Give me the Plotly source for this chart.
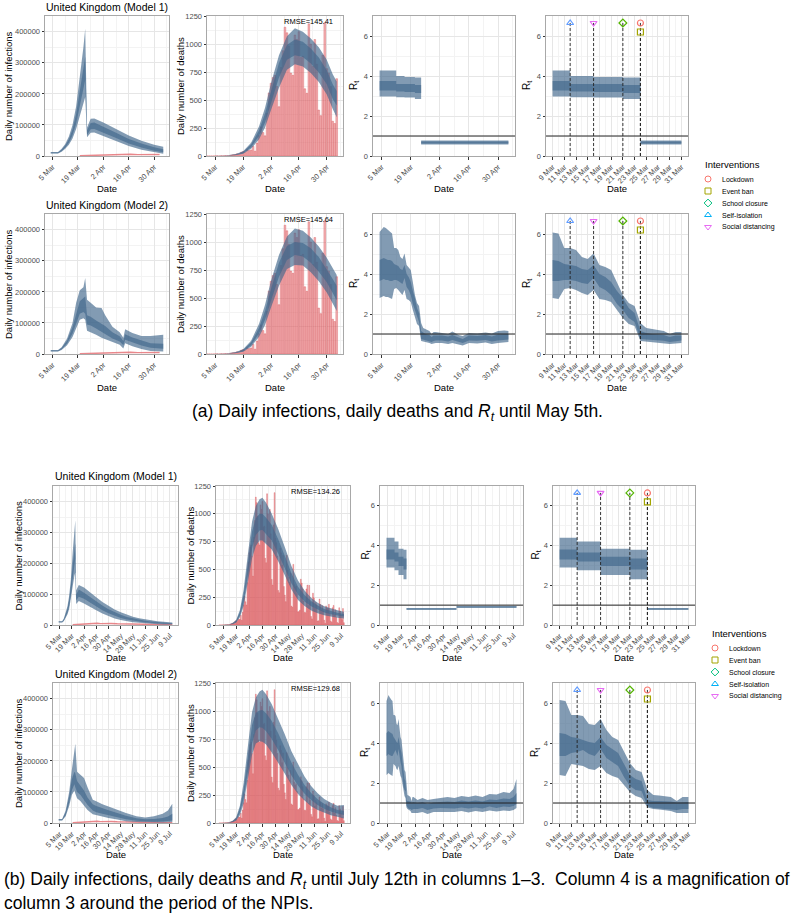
import pandas as pd
import plotly.graph_objects as go

W, H = 794, 917
FONT = "Liberation Sans, Arial, sans-serif"
BAND = "rgba(66,103,140,0.66)"
BAR_FILL = "rgba(232,118,122,0.55)"
BAR_LINE = "rgba(214,78,84,0.75)"
CASE_LINE = "rgba(228,105,110,0.8)"
GRID = "#e6e6e6"
GRID_MINOR = "#f3f3f3"
BORDER = "#a8a8a8"

# ---------------- observed data ----------------
death_start = "2020-03-01"
deaths = [0, 0, 0, 0, 1, 1, 0, 2, 1, 3,
          2, 2, 8, 12, 14, 20, 16, 33, 40, 33,
          56, 48, 54, 87, 43, 115, 181, 260, 209, 180, 381,
          563, 650, 700, 720, 620, 440, 790, 940, 1150, 1100,
          980, 740, 720, 1080, 1040, 1110, 880, 890, 600, 560,
          1180, 1000, 800, 1040, 820, 410, 360, 900, 1190, 780,
          740, 620, 310, 290, 690, 649, 539, 626, 346, 269,
          210, 627, 494, 428, 384, 468, 170, 160, 545, 363,
          338, 351, 282, 118, 121, 134, 412, 377, 324, 215, 113,
          111, 324, 359, 176, 357, 204, 77, 55, 286, 245,
          151, 202, 181, 36, 38, 233, 184, 135, 173, 128,
          43, 15, 171, 154, 149, 186, 100, 36, 25, 155,
          176, 89, 137, 67, 22, 16, 155, 126, 85, 48, 148, 21]

case_dates = ["2020-03-20", "2020-03-24", "2020-03-28", "2020-04-01", "2020-04-05", "2020-04-09",
              "2020-04-13", "2020-04-17", "2020-04-21", "2020-04-25", "2020-04-29", "2020-05-03",
              "2020-05-10", "2020-05-17", "2020-05-24", "2020-05-31", "2020-06-07", "2020-06-14",
              "2020-06-21", "2020-06-28", "2020-07-05", "2020-07-12"]
cases = [700, 1400, 2500, 4300, 5500, 5000, 4500, 5500, 4500, 5000, 4500, 4800,
         3900, 3300, 2400, 1800, 1500, 1200, 1000, 900, 600, 600]

# ---------------- infections (50% and 95% bands) ----------------
inf_a1_dates = ["2020-03-04", "2020-03-06", "2020-03-08", "2020-03-10", "2020-03-12", "2020-03-14",
                "2020-03-16", "2020-03-18", "2020-03-20", "2020-03-22", "2020-03-23", "2020-03-24",
                "2020-03-26", "2020-03-28", "2020-04-02", "2020-04-09", "2020-04-16", "2020-04-23",
                "2020-04-30", "2020-05-05"]
inf_a1_lo50 = [9000, 9000, 9000, 16000, 27000, 43000, 67000, 105000, 160000, 220000, 245000, 68000,
               86000, 87000, 76000, 58000, 40000, 27000, 17000, 12000]
inf_a1_hi50 = [11000, 11000, 11000, 20000, 34000, 54000, 85000, 135000, 205000, 285000, 320000, 83000,
               106000, 108000, 95000, 75000, 55000, 40000, 28000, 22000]
inf_a1_lo95 = [8000, 8000, 8000, 14000, 23000, 36000, 56000, 87000, 130000, 175000, 190000, 60000,
               75000, 76000, 65000, 48000, 32000, 20000, 11000, 7000]
inf_a1_hi95 = [12500, 12500, 12500, 23000, 39000, 63000, 100000, 160000, 250000, 350000, 410000, 92000,
               120000, 121000, 108000, 88000, 66000, 49000, 36000, 30000]

inf_a2_dates = ["2020-03-04", "2020-03-08", "2020-03-10", "2020-03-13", "2020-03-16", "2020-03-18",
                "2020-03-20", "2020-03-22", "2020-03-23", "2020-03-24", "2020-03-26", "2020-03-29",
                "2020-04-01", "2020-04-03", "2020-04-07", "2020-04-11", "2020-04-13", "2020-04-14",
                "2020-04-18", "2020-04-23", "2020-04-28", "2020-05-05"]
inf_a2_lo50 = [9000, 9000, 15000, 34000, 66000, 100000, 130000, 135000, 130000, 95000, 92000, 82000,
               72000, 66000, 50000, 40000, 28000, 46000, 37000, 27000, 20000, 17000]
inf_a2_hi50 = [11000, 11000, 19000, 43000, 86000, 132000, 170000, 180000, 185000, 125000, 120000, 108000,
               97000, 90000, 70000, 57000, 42000, 64000, 53000, 43000, 35000, 33000]
inf_a2_lo95 = [8000, 8000, 13000, 28000, 55000, 85000, 110000, 115000, 110000, 75000, 70000, 62000,
               52000, 48000, 38000, 30000, 18000, 35000, 25000, 16000, 10000, 8000]
inf_a2_hi95 = [12500, 12500, 22000, 50000, 100000, 165000, 205000, 215000, 245000, 175000, 165000, 150000,
               148000, 125000, 88000, 70000, 52000, 80000, 68000, 58000, 58000, 62000]

inf_b1_dates = ["2020-03-04", "2020-03-08", "2020-03-10", "2020-03-12", "2020-03-14", "2020-03-16",
                "2020-03-18", "2020-03-20", "2020-03-22", "2020-03-23", "2020-03-24", "2020-03-27",
                "2020-04-02", "2020-04-09", "2020-04-16", "2020-04-23", "2020-04-30", "2020-05-07",
                "2020-05-14", "2020-05-21", "2020-05-28", "2020-06-04", "2020-06-11", "2020-06-18",
                "2020-06-25", "2020-07-02", "2020-07-12"]
inf_b1_lo50 = [9000, 9000, 15000, 26000, 40000, 62000, 98000, 150000, 195000, 215000, 80000, 92000,
               85000, 72000, 60000, 48000, 38000, 30000, 23000, 18000, 14000, 11000, 8500, 6500,
               5000, 4000, 3000]
inf_b1_hi50 = [11000, 11000, 19000, 33000, 52000, 82000, 128000, 195000, 250000, 265000, 98000, 115000,
               105000, 90000, 77000, 63000, 51000, 41000, 33000, 26000, 21000, 17000, 13500, 11000,
               9000, 7500, 6000]
inf_b1_lo95 = [8000, 8000, 13000, 22000, 34000, 52000, 82000, 125000, 160000, 170000, 68000, 78000,
               70000, 58000, 48000, 37000, 28000, 21000, 16000, 12000, 9000, 7000, 5000, 3800,
               2800, 2000, 1500]
inf_b1_hi95 = [12500, 12500, 22000, 38000, 60000, 95000, 150000, 235000, 300000, 340000, 112000, 130000,
               122000, 105000, 90000, 75000, 62000, 50000, 41000, 33000, 27000, 22000, 18000, 15000,
               12500, 10500, 8500]

inf_b2_dates = ["2020-03-04", "2020-03-08", "2020-03-12", "2020-03-16", "2020-03-19", "2020-03-21",
                "2020-03-22", "2020-03-23", "2020-03-25", "2020-03-29", "2020-04-02", "2020-04-06",
                "2020-04-12", "2020-04-16", "2020-04-23", "2020-04-30", "2020-05-10", "2020-05-20",
                "2020-06-01", "2020-06-11", "2020-06-21", "2020-07-01", "2020-07-07", "2020-07-12"]
inf_b2_lo50 = [9000, 9000, 26000, 65000, 105000, 120000, 125000, 115000, 100000, 90000, 75000, 58000,
               40000, 35000, 30000, 25000, 18000, 12000, 7000, 5000, 4000, 5000, 6000, 8000]
inf_b2_hi50 = [11000, 11000, 34000, 85000, 140000, 160000, 165000, 160000, 135000, 120000, 105000, 82000,
               60000, 55000, 47000, 41000, 32000, 23000, 15000, 12000, 13000, 16000, 21000, 30000]
inf_b2_lo95 = [8000, 8000, 22000, 55000, 90000, 100000, 105000, 95000, 80000, 70000, 55000, 42000,
               28000, 25000, 20000, 16000, 11000, 6000, 3000, 2000, 1500, 2000, 2500, 3000]
inf_b2_hi95 = [12500, 12500, 40000, 100000, 170000, 210000, 240000, 255000, 165000, 155000, 145000, 115000,
               75000, 70000, 60000, 53000, 42000, 32000, 22000, 18000, 22000, 30000, 40000, 62000]

# ---------------- modelled deaths ----------------
dth_a_dates = ["2020-03-04", "2020-03-10", "2020-03-15", "2020-03-19", "2020-03-23", "2020-03-27",
               "2020-03-30", "2020-04-02", "2020-04-06", "2020-04-10", "2020-04-14", "2020-04-18",
               "2020-04-22", "2020-04-26", "2020-04-30", "2020-05-03", "2020-05-05"]
dth_a1_lo50 = [0, 1, 8, 25, 78, 180, 300, 470, 700, 860, 900, 885, 825, 745, 640, 510, 450]
dth_a1_hi50 = [0, 3, 12, 36, 102, 230, 380, 575, 830, 990, 1040, 1020, 960, 880, 765, 640, 580]
dth_a1_lo95 = [0, 1, 6, 20, 65, 150, 255, 410, 610, 770, 820, 800, 740, 660, 550, 420, 345]
dth_a1_hi95 = [0, 4, 15, 42, 118, 265, 430, 650, 900, 1070, 1140, 1110, 1050, 970, 860, 730, 665]
dth_a2_lo50 = [0, 1, 8, 25, 78, 185, 305, 475, 690, 840, 885, 870, 815, 735, 640, 545, 480]
dth_a2_hi50 = [0, 3, 12, 36, 102, 235, 385, 580, 815, 965, 1000, 990, 945, 865, 760, 670, 610]
dth_a2_lo95 = [0, 1, 6, 20, 65, 155, 260, 415, 610, 760, 795, 790, 730, 650, 550, 450, 385]
dth_a2_hi95 = [0, 4, 15, 42, 118, 270, 440, 655, 885, 1050, 1120, 1100, 1040, 960, 860, 765, 705]

dth_b_dates = ["2020-03-04", "2020-03-10", "2020-03-15", "2020-03-19", "2020-03-23", "2020-03-27",
               "2020-04-01", "2020-04-05", "2020-04-09", "2020-04-13", "2020-04-16", "2020-04-20",
               "2020-04-26", "2020-05-03", "2020-05-10", "2020-05-17", "2020-05-24", "2020-05-31",
               "2020-06-07", "2020-06-14", "2020-06-21", "2020-06-28", "2020-07-05", "2020-07-12"]
dth_b1_lo50 = [0, 1, 8, 26, 85, 205, 460, 690, 810, 850, 855, 820, 760, 640, 505, 375, 275, 212,
               168, 137, 112, 96, 84, 76]
dth_b1_hi50 = [0, 3, 13, 38, 115, 275, 585, 840, 960, 1000, 1000, 965, 900, 770, 620, 465, 345, 270,
               215, 175, 145, 125, 110, 100]
dth_b1_lo95 = [0, 1, 6, 20, 70, 170, 390, 600, 710, 760, 760, 730, 680, 570, 440, 320, 225, 170,
               130, 105, 88, 75, 65, 58]
dth_b1_hi95 = [0, 4, 16, 46, 135, 320, 670, 930, 1070, 1130, 1145, 1100, 1000, 860, 700, 530, 400, 310,
               245, 200, 168, 148, 132, 120]
dth_b2_lo50 = [0, 1, 9, 28, 92, 220, 480, 710, 825, 855, 850, 820, 750, 650, 535, 425, 335, 262,
               205, 160, 128, 102, 84, 72]
dth_b2_hi50 = [0, 3, 14, 42, 130, 300, 620, 875, 985, 1005, 1010, 980, 910, 800, 670, 540, 430, 340,
               268, 212, 172, 140, 117, 110]
dth_b2_lo95 = [0, 1, 6, 20, 70, 175, 400, 610, 710, 730, 725, 700, 630, 540, 440, 340, 260, 200,
               150, 115, 90, 70, 55, 40]
dth_b2_hi95 = [0, 5, 18, 52, 155, 360, 720, 990, 1120, 1175, 1190, 1150, 1060, 930, 790, 640, 520, 415,
               330, 265, 215, 180, 155, 160]

# ---------------- Rt, model 1 (piecewise constant) ----------------
rt_a1_starts = ["2020-03-04", "2020-03-12", "2020-03-16", "2020-03-21", "2020-03-24"]
rt_a1_end = "2020-05-05"
rt_a1_lo50 = [3.28, 3.22, 3.20, 3.15, 0.63]
rt_a1_hi50 = [3.75, 3.60, 3.60, 3.55, 0.72]
rt_a1_lo95 = [2.98, 2.94, 2.92, 2.85, 0.58]
rt_a1_hi95 = [4.27, 4.00, 3.95, 3.92, 0.78]

rt_b1_starts = ["2020-03-04", "2020-03-12", "2020-03-16", "2020-03-21", "2020-03-24", "2020-05-13"]
rt_b1_end = "2020-07-12"
rt_b1_lo50 = [3.30, 3.20, 2.97, 2.80, 0.79, 0.89]
rt_b1_hi50 = [3.80, 3.65, 3.44, 3.35, 0.83, 0.93]
rt_b1_lo95 = [2.90, 2.76, 2.52, 2.31, 0.76, 0.86]
rt_b1_hi95 = [4.39, 4.20, 3.84, 3.79, 0.86, 0.96]

# ---------------- Rt, model 2 (daily to 31 Mar, then sparser) ----------------
rt_a2_dates = [d.strftime("%Y-%m-%d") for d in pd.date_range("2020-03-04", "2020-03-31")] + [
    "2020-04-03", "2020-04-06", "2020-04-08", "2020-04-11", "2020-04-13", "2020-04-16",
    "2020-04-20", "2020-04-24", "2020-04-27", "2020-04-30", "2020-05-03", "2020-05-05"]
rt_a2_lo50 = [3.65, 3.70, 3.75, 3.70, 3.70, 3.65, 3.65, 3.70, 3.70, 3.65, 3.55, 3.50, 3.80, 3.35,
              3.20, 2.95, 2.50, 2.20, 1.80, 1.60, 0.75, 0.72, 0.70, 0.68, 0.66, 0.60, 0.65, 0.68,
              0.68, 0.63, 0.70, 0.60, 0.55, 0.68, 0.66, 0.70, 0.63, 0.68, 0.70, 0.72]
rt_a2_hi50 = [4.70, 4.75, 4.80, 4.75, 4.70, 4.70, 4.65, 4.50, 4.45, 4.40, 4.25, 4.20, 4.45, 4.00,
              3.85, 3.60, 3.15, 2.80, 2.30, 2.05, 1.15, 1.05, 1.00, 0.97, 0.95, 0.85, 0.92, 0.93,
              0.92, 0.87, 0.95, 0.82, 0.75, 0.92, 0.90, 0.95, 0.88, 0.97, 1.00, 1.00]
rt_a2_lo95 = [2.80, 2.85, 2.90, 2.85, 2.85, 2.80, 2.75, 3.25, 3.30, 3.20, 3.05, 2.95, 3.20, 2.75,
              2.70, 2.60, 2.20, 1.80, 1.50, 1.40, 0.65, 0.62, 0.60, 0.57, 0.55, 0.50, 0.52, 0.55,
              0.55, 0.50, 0.55, 0.45, 0.42, 0.55, 0.53, 0.58, 0.50, 0.55, 0.58, 0.60]
rt_a2_hi95 = [6.10, 6.25, 6.35, 6.30, 6.20, 6.08, 6.03, 5.30, 5.30, 5.20, 4.85, 4.75, 5.03, 4.45,
              4.35, 4.20, 3.60, 2.95, 2.55, 2.40, 1.55, 1.30, 1.25, 1.20, 1.15, 1.00, 1.10, 1.10,
              1.05, 1.00, 1.12, 0.95, 0.90, 1.05, 1.02, 1.08, 1.02, 1.15, 1.18, 1.15]

rt_b2_dates = [d.strftime("%Y-%m-%d") for d in pd.date_range("2020-03-04", "2020-03-31")] + [
    "2020-04-04", "2020-04-09", "2020-04-14", "2020-04-20", "2020-04-27", "2020-05-04",
    "2020-05-11", "2020-05-18", "2020-05-25", "2020-06-01", "2020-06-08", "2020-06-15",
    "2020-06-22", "2020-06-29", "2020-07-05", "2020-07-09", "2020-07-12"]
rt_b2_lo50 = [3.35, 3.40, 3.45, 3.40, 3.35, 3.35, 3.35, 3.50, 3.55, 3.65, 3.45, 3.35, 3.70, 3.25,
              3.05, 2.85, 2.30, 1.85, 1.65, 1.60, 0.85, 0.75, 0.72, 0.70, 0.70, 0.65, 0.70, 0.70,
              0.70, 0.75, 0.65, 0.72, 0.75, 0.75, 0.72, 0.78, 0.72, 0.78, 0.72, 0.82, 0.75, 0.82,
              0.80, 0.85, 0.95]
rt_b2_hi50 = [4.50, 4.55, 4.60, 4.55, 4.50, 4.50, 4.45, 4.30, 4.25, 4.15, 4.05, 4.00, 4.30, 3.90,
              3.70, 3.50, 2.95, 2.40, 2.20, 2.10, 1.15, 1.10, 1.10, 1.10, 1.08, 1.02, 1.05, 1.05,
              1.00, 1.05, 0.95, 1.02, 1.05, 1.08, 1.05, 1.12, 1.08, 1.12, 1.08, 1.18, 1.15, 1.22,
              1.20, 1.30, 1.50]
rt_b2_lo95 = [2.40, 2.45, 2.50, 2.45, 2.42, 2.40, 2.35, 2.95, 2.90, 2.85, 2.70, 2.65, 2.85, 2.50,
              2.35, 2.25, 1.90, 1.55, 1.35, 1.25, 0.78, 0.70, 0.67, 0.65, 0.60, 0.50, 0.50, 0.50,
              0.50, 0.55, 0.45, 0.55, 0.55, 0.58, 0.55, 0.60, 0.52, 0.60, 0.55, 0.62, 0.58, 0.62,
              0.60, 0.65, 0.75]
rt_b2_hi95 = [6.10, 6.25, 6.40, 6.30, 6.20, 6.15, 6.10, 5.40, 5.40, 5.35, 4.95, 4.90, 5.20, 4.65,
              4.30, 4.15, 3.60, 3.00, 2.65, 2.55, 1.65, 1.40, 1.38, 1.35, 1.30, 1.10, 1.30, 1.30,
              1.15, 1.25, 1.15, 1.20, 1.25, 1.30, 1.25, 1.35, 1.30, 1.38, 1.30, 1.45, 1.42, 1.55,
              1.50, 1.70, 2.20]

# ---------------- interventions ----------------
interventions = ["Lockdown", "Event ban", "School closure", "Self-isolation", "Social distancing"]
interv_dates = ["2020-03-24", "2020-03-24", "2020-03-21", "2020-03-12", "2020-03-16"]
interv_y = [6.65, 6.2, 6.65, 6.65, 6.65]
interv_symbols = ["circle-open", "square-open", "diamond-open", "triangle-up-open", "triangle-down-open"]
interv_colors = ["#F8766D", "#A3A500", "#53B400", "#619CFF", "#E76BF3"]
legend_colors = ["#F8766D", "#A3A500", "#00BF7D", "#00B0F6", "#E76BF3"]

# ---------------- tick labels ----------------
tick_a_labels = ["5 Mar", "19 Mar", "2 Apr", "16 Apr", "30 Apr"]
tick_b_labels = ["5 Mar", "19 Mar", "2 Apr", "16 Apr", "30 Apr", "14 May", "28 May", "11 Jun", "25 Jun", "9 Jul"]
tick_z_labels = ["9 Mar", "11 Mar", "13 Mar", "15 Mar", "17 Mar", "19 Mar", "21 Mar", "23 Mar",
                 "25 Mar", "27 Mar", "29 Mar", "31 Mar"]
rmse_text = [["RMSE=145.41", "RMSE=145.64"], ["RMSE=134.26", "RMSE=129.68"]]


def ds(idx):
    return [d.strftime("%Y-%m-%d") for d in idx]


tick_a = ds(pd.date_range("2020-03-05", periods=5, freq="14D"))
tick_b = ds(pd.date_range("2020-03-05", periods=10, freq="14D"))
tick_z = ds(pd.date_range("2020-03-09", "2020-03-31", freq="2D"))
minor_ab = ds(pd.date_range("2020-02-27", "2020-07-31", freq="14D"))
minor_z = ds(pd.date_range("2020-03-08", "2020-04-01", freq="2D"))
death_dates = ds(pd.date_range(death_start, periods=len(deaths)))

# ---------------- layout geometry (pixels) ----------------
COLS = [[(45, 169), (207, 343), (373, 515), (546, 688)],
        [(53, 178), (216, 350), (380, 523), (553, 695)]]
ROWS = [[(16, 156), (214, 354)], [(486, 625), (683, 823)]]
DATE_Y = [[188, 387], [657, 854]]
TITLE_Y = [[7, 205], [476, 674]]
YTITLE_X = [[8, 180, 354, 527], [18, 190, 365, 535]]
XRANGE = [["2020-02-29 20:00", "2020-05-08 04:00"], ["2020-02-26 12:00", "2020-07-18 12:00"]]
ZRANGE = ["2020-03-07 21:00", "2020-04-01 03:00"]
END = ["2020-05-05", "2020-07-12"]

fig = go.Figure()
layout = dict(width=W, height=H, margin=dict(l=0, r=0, t=0, b=0), paper_bgcolor="white",
              plot_bgcolor="rgba(0,0,0,0)", showlegend=False, bargap=0.15,
              font=dict(family=FONT, size=9, color="black"), annotations=[], shapes=[])

# full-page pixel axis used to place free text and the legends
layout["xaxis17"] = dict(domain=[0, 1], range=[0, W], visible=False, anchor="y17", fixedrange=True)
layout["yaxis17"] = dict(domain=[0, 1], range=[H, 0], visible=False, anchor="x17", fixedrange=True)


def text_px(text, x, y, size, xanchor="center", angle=0, color="black"):
    layout["annotations"].append(dict(text=text, xref="x17", yref="y17", x=x, y=y, xanchor=xanchor,
                                      yanchor="middle", textangle=angle, showarrow=False,
                                      font=dict(size=size, family=FONT, color=color)))


def names(k):
    s = "" if k == 1 else str(k)
    return "x" + s, "y" + s, "xaxis" + s, "yaxis" + s


def add_axes(k, xpx, ypx, xcfg, ycfg):
    xn, yn, xk, yk = names(k)
    common = dict(showline=True, linecolor=BORDER, linewidth=1, mirror=True, showgrid=True,
                  gridcolor=GRID, gridwidth=0.8, zeroline=False, ticks="outside", ticklen=2.5,
                  tickwidth=0.8, tickcolor="#333333", automargin=False,
                  tickfont=dict(size=7.5, color="#4d4d4d", family=FONT))
    layout[xk] = dict(common, domain=[xpx[0] / W, xpx[1] / W], anchor=yn, **xcfg)
    layout[yk] = dict(common, domain=[1 - ypx[1] / H, 1 - ypx[0] / H], anchor=xn, **ycfg)
    return xn, yn


def x_cfg(rng, tv, tt, mv):
    return dict(type="date", range=rng, tickmode="array", tickvals=tv, ticktext=tt, tickangle=-45,
                minor=dict(tickmode="array", tickvals=mv, showgrid=True, gridcolor=GRID_MINOR,
                           gridwidth=0.6, ticks=""))


def y_cfg(rng, tv, mv):
    return dict(range=rng, tickmode="array", tickvals=tv, tickformat="d",
                minor=dict(tickmode="array", tickvals=mv, showgrid=True, gridcolor=GRID_MINOR,
                           gridwidth=0.6, ticks=""))


Y_INF = y_cfg([0, 451000], [0, 100000, 200000, 300000, 400000], [50000, 150000, 250000, 350000, 450000])
Y_DTH = y_cfg([0, 1250], [0, 250, 500, 750, 1000, 1250], [125, 375, 625, 875, 1125])
Y_RT = y_cfg([0, 7], [0, 2, 4, 6], [1, 3, 5, 7])
Y_TITLES = ["Daily number of infections", "Daily number of deaths", "R<sub>t</sub>", "R<sub>t</sub>"]


def band(xn, yn, x, lo50, hi50, lo95, hi95, shape="linear"):
    for lo, hi in ((lo95, hi95), (lo50, hi50)):
        fig.add_trace(go.Scatter(x=x, y=lo, mode="lines", line=dict(width=0, shape=shape),
                                 xaxis=xn, yaxis=yn, hoverinfo="skip"))
        fig.add_trace(go.Scatter(x=x, y=hi, mode="lines", line=dict(width=0, shape=shape),
                                 fill="tonexty", fillcolor=BAND, xaxis=xn, yaxis=yn, hoverinfo="skip"))


def step_xy(starts, end, vals, lo=None, hi=None):
    s = [pd.Timestamp(v) for v in starts]
    e = pd.Timestamp(end)
    lo = pd.Timestamp(lo) if lo else s[0]
    hi = pd.Timestamp(hi) if hi else e
    xs, ys = [], []
    for i, v in enumerate(vals):
        seg_end = s[i + 1] if i + 1 < len(s) else e
        if seg_end <= lo or s[i] >= hi:
            continue
        xs.append(max(s[i], lo))
        ys.append(v)
    xs.append(min(e, hi))
    ys.append(ys[-1])
    return xs, ys


def clip(dates, arrays, lo, hi):
    idx = [i for i, d in enumerate(dates) if lo <= d <= hi]
    return [dates[i] for i in idx], [[a[i] for i in idx] for a in arrays]


models = [
    [dict(title="United Kingdom (Model 1)",
          inf=(inf_a1_dates, inf_a1_lo50, inf_a1_hi50, inf_a1_lo95, inf_a1_hi95),
          dth=(dth_a_dates, dth_a1_lo50, dth_a1_hi50, dth_a1_lo95, dth_a1_hi95),
          rt=("step", rt_a1_starts, rt_a1_end, rt_a1_lo50, rt_a1_hi50, rt_a1_lo95, rt_a1_hi95)),
     dict(title="United Kingdom (Model 2)",
          inf=(inf_a2_dates, inf_a2_lo50, inf_a2_hi50, inf_a2_lo95, inf_a2_hi95),
          dth=(dth_a_dates, dth_a2_lo50, dth_a2_hi50, dth_a2_lo95, dth_a2_hi95),
          rt=("daily", rt_a2_dates, rt_a2_lo50, rt_a2_hi50, rt_a2_lo95, rt_a2_hi95))],
    [dict(title="United Kingdom (Model 1)",
          inf=(inf_b1_dates, inf_b1_lo50, inf_b1_hi50, inf_b1_lo95, inf_b1_hi95),
          dth=(dth_b_dates, dth_b1_lo50, dth_b1_hi50, dth_b1_lo95, dth_b1_hi95),
          rt=("step", rt_b1_starts, rt_b1_end, rt_b1_lo50, rt_b1_hi50, rt_b1_lo95, rt_b1_hi95)),
     dict(title="United Kingdom (Model 2)",
          inf=(inf_b2_dates, inf_b2_lo50, inf_b2_hi50, inf_b2_lo95, inf_b2_hi95),
          dth=(dth_b_dates, dth_b2_lo50, dth_b2_hi50, dth_b2_lo95, dth_b2_hi95),
          rt=("daily", rt_b2_dates, rt_b2_lo50, rt_b2_hi50, rt_b2_lo95, rt_b2_hi95))],
]

for b in range(2):
    tv, tt = (tick_a, tick_a_labels) if b == 0 else (tick_b, tick_b_labels)
    end = END[b]
    d_idx = [i for i, d in enumerate(death_dates) if d <= end]
    c_idx = [i for i, d in enumerate(case_dates) if d <= end]
    for r in range(2):
        m = models[b][r]
        ypx = ROWS[b][r]
        base = b * 8 + r * 4

        # titles of the panel row
        text_px(m["title"], (COLS[b][0][0] + COLS[b][0][1]) / 2, TITLE_Y[b][r], 10.5)
        for c in range(4):
            text_px("Date", (COLS[b][c][0] + COLS[b][c][1]) / 2, DATE_Y[b][r], 9.5)
            text_px(Y_TITLES[c], YTITLE_X[b][c], (ypx[0] + ypx[1]) / 2, 10 if c > 1 else 9.5, angle=-90)

        # column 1: infections
        xn, yn = add_axes(base + 1, COLS[b][0], ypx, x_cfg(XRANGE[b], tv, tt, minor_ab), Y_INF)
        fig.add_trace(go.Scatter(x=[case_dates[i] for i in c_idx], y=[cases[i] for i in c_idx],
                                 mode="lines", line=dict(color=CASE_LINE, width=1.4),
                                 xaxis=xn, yaxis=yn, hoverinfo="skip"))
        band(xn, yn, *m["inf"])

        # column 2: deaths
        xn, yn = add_axes(base + 2, COLS[b][1], ypx, x_cfg(XRANGE[b], tv, tt, minor_ab), Y_DTH)
        fig.add_trace(go.Bar(x=[death_dates[i] for i in d_idx], y=[deaths[i] for i in d_idx],
                             marker=dict(color=BAR_FILL, line=dict(color=BAR_LINE, width=0.5)),
                             xaxis=xn, yaxis=yn, hoverinfo="skip"))
        band(xn, yn, *m["dth"])
        layout["annotations"].append(dict(text=rmse_text[b][r], xref=xn + " domain", yref=yn + " domain",
                                          x=0.94, y=1, xanchor="right", yanchor="top", yshift=1,
                                          showarrow=False, font=dict(size=7.5, family=FONT)))

        # columns 3 and 4: Rt (full period, then magnified)
        for c, rng, ticks, mv in ((2, XRANGE[b], (tv, tt), minor_ab),
                                  (3, ZRANGE, (tick_z, tick_z_labels), minor_z)):
            xn, yn = add_axes(base + c + 1, COLS[b][c], ypx, x_cfg(rng, ticks[0], ticks[1], mv), Y_RT)
            rt = m["rt"]
            lo, hi = (None, None) if c == 2 else ("2020-03-09", "2020-03-31")
            if rt[0] == "step":
                arrs = [step_xy(rt[1], rt[2], v, lo, hi) for v in rt[3:]]
                band(xn, yn, arrs[0][0], *[a[1] for a in arrs], shape="hv")
            else:
                dates, arrs = rt[1], list(rt[2:])
                if lo:
                    dates, arrs = clip(dates, arrs, lo, hi)
                band(xn, yn, dates, *arrs)
            layout["shapes"].append(dict(type="line", xref=xn + " domain", yref=yn, x0=0, x1=1,
                                         y0=1, y1=1, line=dict(color="#222222", width=1)))
            if c == 3:
                for d, yv in zip(interv_dates, interv_y):
                    fig.add_trace(go.Scatter(x=[d, d], y=[0, yv], mode="lines",
                                             line=dict(color="#222222", width=0.9, dash="3px,2px"),
                                             xaxis=xn, yaxis=yn, hoverinfo="skip"))
                for name, d, yv, sym, col in zip(interventions, interv_dates, interv_y,
                                                 interv_symbols, interv_colors):
                    fig.add_trace(go.Scatter(x=[d], y=[yv], mode="markers", name=name,
                                             marker=dict(symbol=sym, size=6, color=col,
                                                         line=dict(color=col, width=1.2)),
                                             xaxis=xn, yaxis=yn, hoverinfo="skip"))

# ---------------- legends ----------------
for tx, ty, mx, y0 in ((703, 164, 708, 179), (710, 633, 715, 648)):
    text_px("Interventions", tx, ty, 9.5, xanchor="left")
    for i, (name, sym, col) in enumerate(zip(interventions, interv_symbols, legend_colors)):
        yy = y0 + 12 * i
        fig.add_trace(go.Scatter(x=[mx], y=[yy], mode="markers",
                                 marker=dict(symbol=sym, size=6, color=col, line=dict(color=col, width=1)),
                                 xaxis="x17", yaxis="y17", hoverinfo="skip"))
        text_px(name, mx + 12, yy, 7, xanchor="left")

# ---------------- captions ----------------
CAP = 17.5
text_px("(a) Daily infections, daily deaths and <i>R<sub>t</sub></i> until May 5th.", W / 2, 412, CAP)
text_px("(b) Daily infections, daily deaths and <i>R<sub>t</sub></i> until July 12th in columns 1–3.  "
        "Column 4 is a magnification of", 2, 880, CAP, xanchor="left")
text_px("column 3 around the period of the NPIs.", 2, 903, CAP, xanchor="left")

fig.update_layout(**layout)
fig.write_html("out.html", config={"displayModeBar": False},
               post_script="document.body.style.margin='0px';"
                           "document.body.style.overflow='hidden';")
